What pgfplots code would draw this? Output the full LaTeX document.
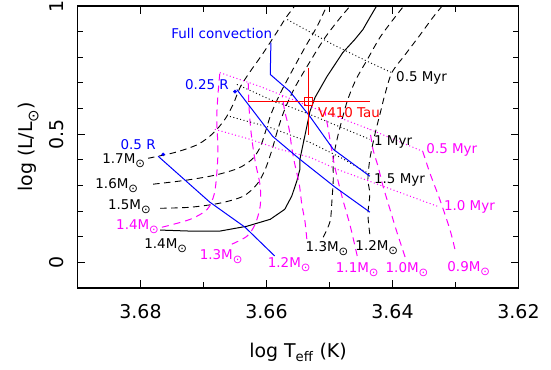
\documentclass[border=0pt]{standalone}
\usepackage{fontspec}
\setmainfont{DejaVu Sans}
\newfontfamily\dvs{DejaVu Sans}
\usepackage{pgfplots}
\pgfplotsset{compat=1.18}
\definecolor{mag}{RGB}{255,0,255}
\definecolor{blu}{RGB}{0,0,255}
\definecolor{rd}{RGB}{255,0,0}
\newcommand{\sun}{\raisebox{-0.55ex}{\fontsize{11.5}{11.5}\selectfont ⊙}}
\newcommand{\bigsun}{\raisebox{-0.6ex}{\fontsize{15}{15}\selectfont ⊙}}
\newcommand{\lf}{\dvs\fontsize{13.5}{16}\selectfont}
\newcommand{\tf}{\dvs\fontsize{19}{22}\selectfont}
\begin{document}
\begin{tikzpicture}
\begin{axis}[
  scale only axis, width=441bp, height=282bp,
  x dir=reverse, xmin=3.62, xmax=3.69, ymin=-0.1, ymax=1.0,
  xtick={3.62,3.64,3.66,3.68}, xticklabels={3.62,3.64,3.66,3.68},
  minor xtick={3.63,3.65,3.67},
  ytick={0,0.5,1}, yticklabels={0,0.5,1},
  minor ytick={-0.1,0.1,0.2,0.3,0.4,0.6,0.7,0.8,0.9},
  tick align=inside, major tick length=8bp, minor tick length=6bp,
  axis line style={line width=1.2bp},
  every tick/.style={line width=0.9bp, black},
  tick label style={font=\tf},
  xticklabel style={anchor=base, yshift=-30bp},
  yticklabel style={xshift=-13.5bp, rotate=90, anchor=base},
  xlabel={log T\textsubscript{eff} (K)},
  ylabel={log (L/L\bigsun)},
  every axis x label/.style={at={(axis description cs:0.5,-0.245)}, anchor=base, font=\tf},
  every axis y label/.style={at={(axis description cs:-0.112,0.5)}, anchor=center, rotate=90, font=\tf},
  trk/.style={black, line width=0.9bp, dash pattern=on 6.5bp off 4.5bp, smooth, tension=0.5},
  mtrk/.style={mag, line width=1bp, dash pattern=on 7bp off 5bp, smooth, tension=0.5},
  iso/.style={black, line width=0.9bp, dash pattern=on 1bp off 2.5bp},
  miso/.style={mag, line width=1bp, dash pattern=on 1bp off 2.5bp},
  bl/.style={blu, line width=1bp},
]
% black tracks
\addplot[trk] coordinates {(3.6788,0.406) (3.6745,0.429) (3.6709,0.460) (3.6685,0.503) (3.6666,0.558) (3.6653,0.616) (3.6642,0.682) (3.6626,0.744) (3.6607,0.810) (3.6583,0.900) (3.6569,0.955) (3.6555,1.001) (3.6548,1.03)};
\addplot[trk] coordinates {(3.6780,0.305) (3.6729,0.320) (3.6682,0.340) (3.6645,0.367) (3.6623,0.402) (3.6610,0.449) (3.6602,0.507) (3.6593,0.577) (3.6579,0.655) (3.6560,0.744) (3.6539,0.838) (3.6520,0.919) (3.6504,1.001) (3.6497,1.03)};
\addplot[trk] coordinates {(3.6769,0.211) (3.6721,0.215) (3.6674,0.231) (3.6637,0.258) (3.6615,0.305) (3.6602,0.363) (3.6591,0.441) (3.6582,0.519) (3.6571,0.597) (3.6555,0.682) (3.6531,0.783) (3.6507,0.877) (3.6483,0.954) (3.6467,1.001) (3.6460,1.03)};
\addplot[black, line width=1bp] coordinates {(3.6769,0.126) (3.6721,0.122) (3.6674,0.122) (3.6631,0.141) (3.6594,0.168) (3.6571,0.207) (3.6560,0.258) (3.6552,0.316) (3.6547,0.363) (3.6547,0.402) (3.6542,0.460) (3.6536,0.530) (3.6531,0.589) (3.6523,0.643) (3.6504,0.725) (3.6479,0.818) (3.6460,0.869) (3.6447,0.908) (3.6436,0.955) (3.6425,1.001) (3.6420,1.03)};
\addplot[trk] coordinates {(3.6510,0.098) (3.6499,0.161) (3.6496,0.246) (3.6494,0.324) (3.6494,0.402) (3.6488,0.480) (3.6480,0.558) (3.6471,0.635) (3.6458,0.713) (3.6440,0.791) (3.6420,0.877) (3.6399,0.947) (3.6382,1.001) (3.6375,1.03)};
\addplot[trk] coordinates {(3.6436,0.110) (3.6439,0.188) (3.6436,0.266) (3.6439,0.324) (3.6436,0.402) (3.6428,0.499) (3.6420,0.577) (3.6412,0.655) (3.6401,0.740) (3.6380,0.810) (3.6356,0.888) (3.6336,0.955) (3.6321,1.001) (3.6313,1.03)};
% magenta tracks
\addplot[mtrk] coordinates {(3.6766,0.137) (3.6721,0.168) (3.6694,0.207) (3.6683,0.266) (3.6679,0.344) (3.6677,0.441) (3.6679,0.558) (3.6677,0.655) (3.6674,0.740)};
\addplot[mtrk] coordinates {(3.6655,0.071) (3.6631,0.102) (3.6618,0.149) (3.6610,0.219) (3.6610,0.297) (3.6617,0.382) (3.6621,0.441) (3.6625,0.519) (3.6628,0.616) (3.6629,0.700)};
\addplot[mtrk] coordinates {(3.6536,0.091) (3.6539,0.161) (3.6544,0.227) (3.6548,0.305) (3.6555,0.382) (3.6560,0.449) (3.6564,0.519) (3.6571,0.589) (3.6575,0.650)};
\addplot[mtrk] coordinates {(3.6456,0.025) (3.6467,0.141) (3.6479,0.246) (3.6487,0.324) (3.6494,0.402) (3.6502,0.519) (3.6507,0.585)};
\addplot[mtrk] coordinates {(3.6380,0.021) (3.6393,0.118) (3.6404,0.207) (3.6415,0.297) (3.6423,0.375) (3.6431,0.441) (3.6436,0.519)};
\addplot[mtrk] coordinates {(3.6301,0.052) (3.6309,0.129) (3.6325,0.246) (3.6340,0.344) (3.6352,0.433)};
% magenta isochrones
\addplot[miso] coordinates {(3.6674,0.740) (3.6610,0.686) (3.6531,0.608) (3.6436,0.519) (3.6352,0.433)};
\addplot[miso] coordinates {(3.6682,0.519) (3.6626,0.480) (3.6579,0.441) (3.6531,0.410) (3.6488,0.363) (3.6415,0.297) (3.6329,0.219)};
% black isochrones
\addplot[iso] coordinates {(3.6567,0.947) (3.6494,0.849) (3.6439,0.783) (3.6401,0.740)};
\addplot[iso] coordinates {(3.6647,0.694) (3.6594,0.635) (3.6531,0.577) (3.6436,0.480)};
\addplot[iso] coordinates {(3.6658,0.569) (3.6594,0.526) (3.6531,0.468) (3.6483,0.410) (3.6436,0.344)};
% blue lines
\addplot[bl] coordinates {(3.6593,0.857) (3.6594,0.733) (3.6563,0.667) (3.6531,0.569) (3.6494,0.441) (3.6436,0.336)};
\addplot[bl] coordinates {(3.6647,0.674) (3.6590,0.491) (3.6547,0.402) (3.6491,0.293) (3.6436,0.196)};
\addplot[bl] coordinates {(3.6772,0.414) (3.6690,0.235) (3.6634,0.137) (3.6587,0.025)};
\addplot[blu, only marks, mark=*, mark size=1.6bp] coordinates {(3.6764,0.421) (3.6650,0.666)};
% V410 Tau
\addplot[rd, line width=0.9bp, mark=square, mark size=4bp, mark options={solid, line width=0.9bp},
  error bars/.cd, x dir=both, x explicit, y dir=both, y explicit, error mark=none,
  error bar style={rd, line width=0.9bp}]
  coordinates {(3.6533,0.628) +- (0.0097,0.13)};
% labels
\node[anchor=east, font=\lf, inner sep=1bp] at (axis cs:3.6791,0.398) {1.7M\sun};
\node[anchor=east, font=\lf, inner sep=1bp] at (axis cs:3.6802,0.300) {1.6M\sun};
\node[anchor=east, font=\lf, inner sep=1bp] at (axis cs:3.6782,0.218) {1.5M\sun};
\node[anchor=east, font=\lf, text=mag, inner sep=1bp] at (axis cs:3.6769,0.140) {1.4M\sun};
\node[font=\lf] at (axis cs:3.6760,0.065) {1.4M\sun};
\node[font=\lf, text=mag] at (axis cs:3.6672,0.021) {1.3M\sun};
\node[font=\lf, text=mag] at (axis cs:3.6564,-0.007) {1.2M\sun};
\node[font=\lf] at (axis cs:3.6504,0.052) {1.3M\sun};
\node[font=\lf] at (axis cs:3.6425,0.056) {1.2M\sun};
\node[font=\lf, text=mag] at (axis cs:3.6456,-0.030) {1.1M\sun};
\node[font=\lf, text=mag] at (axis cs:3.6377,-0.030) {1.0M\sun};
\node[font=\lf, text=mag] at (axis cs:3.6279,-0.026) {0.9M\sun};
\node[anchor=west, font=\lf, inner sep=1bp] at (axis cs:3.6396,0.721) {0.5 Myr};
\node[anchor=west, font=\lf, inner sep=1bp] at (axis cs:3.6431,0.468) {1 Myr};
\node[anchor=west, font=\lf, inner sep=1bp] at (axis cs:3.6431,0.320) {1.5 Myr};
\node[anchor=west, font=\lf, text=mag, inner sep=1bp] at (axis cs:3.6348,0.437) {0.5 Myr};
\node[anchor=west, font=\lf, text=mag, inner sep=1bp] at (axis cs:3.6320,0.215) {1.0 Myr};
\node[anchor=west, font=\lf, text=rd, inner sep=1bp] at (axis cs:3.6520,0.585) {V410 Tau};
\node[font=\lf, text=blu] at (axis cs:3.6671,0.892) {Full convection};
\node[anchor=east, font=\lf, text=blu, inner sep=1bp] at (axis cs:3.6658,0.694) {0.25 R};
\node[anchor=east, font=\lf, text=blu, inner sep=1bp] at (axis cs:3.6774,0.460) {0.5 R};
\coordinate (ll) at (axis description cs:0,0);
\coordinate (ur) at (axis description cs:1,1);
\end{axis}
\pgfresetboundingbox
\path[use as bounding box] ([shift={(-77.5bp,-81bp)}]ll) rectangle ([shift={(32.5bp,6bp)}]ur);
\end{tikzpicture}
\end{document}
